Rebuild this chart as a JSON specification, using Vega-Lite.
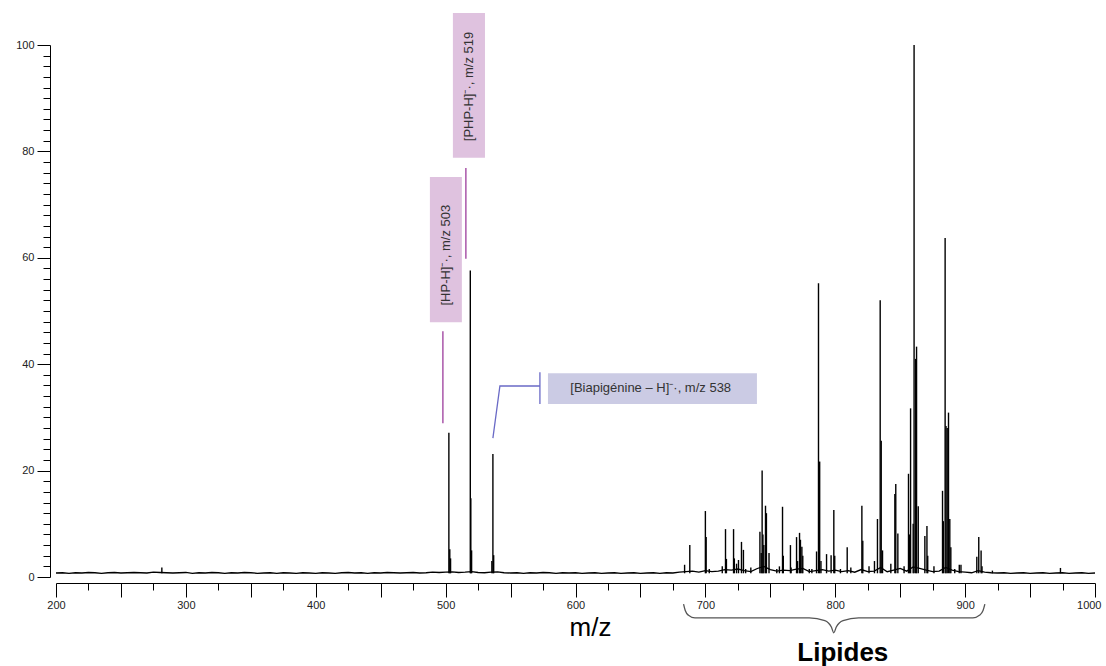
{
  "$schema": "https://vega.github.io/schema/vega-lite/v6.json",
  "width": 1039,
  "height": 532,
  "autosize": {"type": "none"},
  "padding": {"left": 56, "top": 45, "right": 11, "bottom": 89},
  "background": "white",
  "config": {"view": {"stroke": null}},
  "datasets": {
    "peaks": [
      {"mz": 281.5, "intensity": 1.8},
      {"mz": 502.5, "intensity": 27.1},
      {"mz": 503.2, "intensity": 5.2},
      {"mz": 503.8, "intensity": 3.5},
      {"mz": 519.0, "intensity": 57.6},
      {"mz": 519.4, "intensity": 14.8},
      {"mz": 520.0, "intensity": 5.0},
      {"mz": 535.6, "intensity": 3.0},
      {"mz": 536.4, "intensity": 23.1},
      {"mz": 537.0, "intensity": 4.1},
      {"mz": 684.0, "intensity": 2.3},
      {"mz": 688.0, "intensity": 6.0},
      {"mz": 700.0, "intensity": 12.4},
      {"mz": 700.6, "intensity": 7.5},
      {"mz": 703.0, "intensity": 1.5},
      {"mz": 713.0, "intensity": 2.0},
      {"mz": 715.5, "intensity": 9.0},
      {"mz": 716.2, "intensity": 3.4},
      {"mz": 721.7, "intensity": 9.0},
      {"mz": 722.3, "intensity": 3.5},
      {"mz": 724.0, "intensity": 2.5},
      {"mz": 725.5, "intensity": 3.2},
      {"mz": 727.8, "intensity": 6.6},
      {"mz": 729.3, "intensity": 5.1},
      {"mz": 731.0, "intensity": 1.5},
      {"mz": 735.0, "intensity": 1.8},
      {"mz": 742.0, "intensity": 8.5},
      {"mz": 743.0, "intensity": 4.5},
      {"mz": 743.7, "intensity": 20.0},
      {"mz": 744.3, "intensity": 8.0},
      {"mz": 745.0, "intensity": 6.0},
      {"mz": 746.3, "intensity": 13.4},
      {"mz": 747.0, "intensity": 12.0},
      {"mz": 749.0, "intensity": 4.5},
      {"mz": 755.0, "intensity": 1.5},
      {"mz": 757.0, "intensity": 2.0},
      {"mz": 759.4, "intensity": 13.2},
      {"mz": 760.0, "intensity": 4.0},
      {"mz": 765.5, "intensity": 6.0},
      {"mz": 766.0, "intensity": 1.8},
      {"mz": 770.2, "intensity": 7.5},
      {"mz": 771.0, "intensity": 3.0},
      {"mz": 772.5, "intensity": 8.3},
      {"mz": 773.2, "intensity": 7.0},
      {"mz": 774.3, "intensity": 5.7},
      {"mz": 775.0, "intensity": 4.0},
      {"mz": 780.0, "intensity": 1.5},
      {"mz": 782.0, "intensity": 1.5},
      {"mz": 785.6, "intensity": 4.8},
      {"mz": 787.1, "intensity": 55.2},
      {"mz": 788.0, "intensity": 21.7},
      {"mz": 789.0, "intensity": 3.0},
      {"mz": 793.3, "intensity": 4.3},
      {"mz": 796.8, "intensity": 4.1},
      {"mz": 798.9, "intensity": 12.6},
      {"mz": 799.6, "intensity": 4.0},
      {"mz": 804.0, "intensity": 1.5},
      {"mz": 809.2, "intensity": 5.6},
      {"mz": 812.0, "intensity": 1.8},
      {"mz": 820.5, "intensity": 13.4},
      {"mz": 821.2, "intensity": 6.8},
      {"mz": 826.0, "intensity": 2.0},
      {"mz": 830.2, "intensity": 3.0},
      {"mz": 832.5, "intensity": 10.9},
      {"mz": 834.6, "intensity": 52.0},
      {"mz": 835.4, "intensity": 25.6},
      {"mz": 836.4, "intensity": 5.0},
      {"mz": 842.8, "intensity": 2.5},
      {"mz": 845.9, "intensity": 15.6},
      {"mz": 846.6, "intensity": 17.5},
      {"mz": 848.2, "intensity": 8.2},
      {"mz": 853.0, "intensity": 2.0},
      {"mz": 856.4, "intensity": 19.4},
      {"mz": 857.2, "intensity": 8.0},
      {"mz": 858.0, "intensity": 31.7},
      {"mz": 860.0, "intensity": 10.0},
      {"mz": 860.7, "intensity": 100},
      {"mz": 861.9, "intensity": 41.0},
      {"mz": 862.6, "intensity": 43.3},
      {"mz": 863.9, "intensity": 13.3},
      {"mz": 869.0, "intensity": 7.7},
      {"mz": 870.6, "intensity": 9.6},
      {"mz": 871.2, "intensity": 4.0},
      {"mz": 876.0, "intensity": 2.0},
      {"mz": 882.6, "intensity": 16.2},
      {"mz": 883.2, "intensity": 10.5},
      {"mz": 884.6, "intensity": 63.7},
      {"mz": 885.3, "intensity": 28.4},
      {"mz": 886.2, "intensity": 28.0},
      {"mz": 887.2, "intensity": 30.9},
      {"mz": 888.2, "intensity": 10.9},
      {"mz": 889.0, "intensity": 5.6},
      {"mz": 892.0, "intensity": 1.5},
      {"mz": 895.5, "intensity": 2.3},
      {"mz": 896.8, "intensity": 2.3},
      {"mz": 909.0, "intensity": 3.8},
      {"mz": 910.5, "intensity": 7.5},
      {"mz": 912.3, "intensity": 5.0},
      {"mz": 913.0, "intensity": 2.0},
      {"mz": 921.0, "intensity": 1.2},
      {"mz": 973.4, "intensity": 1.7}
    ],
    "baseline": [
      {"mz":200,"intensity":0.75},{"mz":205,"intensity":0.8},{"mz":210,"intensity":0.7},{"mz":215,"intensity":0.8},{"mz":220,"intensity":0.75},{"mz":225,"intensity":0.85},{"mz":230,"intensity":0.8},{"mz":235,"intensity":0.7},{"mz":240,"intensity":0.8},{"mz":245,"intensity":0.85},{"mz":250,"intensity":0.75},{"mz":255,"intensity":0.8},{"mz":260,"intensity":0.85},{"mz":265,"intensity":0.8},{"mz":270,"intensity":0.75},{"mz":275,"intensity":0.9},{"mz":280,"intensity":0.85},{"mz":285,"intensity":0.8},{"mz":290,"intensity":0.75},{"mz":295,"intensity":0.8},{"mz":300,"intensity":0.85},{"mz":305,"intensity":0.7},{"mz":310,"intensity":0.8},{"mz":315,"intensity":0.75},{"mz":320,"intensity":0.85},{"mz":325,"intensity":0.8},{"mz":330,"intensity":0.7},{"mz":335,"intensity":0.8},{"mz":340,"intensity":0.75},{"mz":345,"intensity":0.85},{"mz":350,"intensity":0.8},{"mz":355,"intensity":0.7},{"mz":360,"intensity":0.75},{"mz":365,"intensity":0.8},{"mz":370,"intensity":0.7},{"mz":375,"intensity":0.8},{"mz":380,"intensity":0.75},{"mz":385,"intensity":0.7},{"mz":390,"intensity":0.8},{"mz":395,"intensity":0.75},{"mz":400,"intensity":0.7},{"mz":405,"intensity":0.8},{"mz":410,"intensity":0.75},{"mz":415,"intensity":0.7},{"mz":420,"intensity":0.8},{"mz":425,"intensity":0.85},{"mz":430,"intensity":0.75},{"mz":435,"intensity":0.8},{"mz":440,"intensity":0.7},{"mz":445,"intensity":0.8},{"mz":450,"intensity":0.75},{"mz":455,"intensity":0.85},{"mz":460,"intensity":0.8},{"mz":465,"intensity":0.75},{"mz":470,"intensity":0.8},{"mz":475,"intensity":0.85},{"mz":480,"intensity":0.75},{"mz":485,"intensity":0.8},{"mz":490,"intensity":0.9},{"mz":495,"intensity":0.85},{"mz":500,"intensity":0.9},{"mz":505,"intensity":0.95},{"mz":510,"intensity":0.85},{"mz":515,"intensity":0.9},{"mz":520,"intensity":1.0},{"mz":525,"intensity":0.85},{"mz":530,"intensity":0.8},{"mz":535,"intensity":0.9},{"mz":540,"intensity":0.95},{"mz":545,"intensity":0.8},{"mz":550,"intensity":0.75},{"mz":555,"intensity":0.8},{"mz":560,"intensity":0.7},{"mz":565,"intensity":0.8},{"mz":570,"intensity":0.75},{"mz":575,"intensity":0.85},{"mz":580,"intensity":0.8},{"mz":585,"intensity":0.7},{"mz":590,"intensity":0.8},{"mz":595,"intensity":0.75},{"mz":600,"intensity":0.8},{"mz":605,"intensity":0.7},{"mz":610,"intensity":0.75},{"mz":615,"intensity":0.8},{"mz":620,"intensity":0.7},{"mz":625,"intensity":0.75},{"mz":630,"intensity":0.8},{"mz":635,"intensity":0.7},{"mz":640,"intensity":0.75},{"mz":645,"intensity":0.8},{"mz":650,"intensity":0.7},{"mz":655,"intensity":0.75},{"mz":660,"intensity":0.8},{"mz":665,"intensity":0.7},{"mz":670,"intensity":0.8},{"mz":675,"intensity":0.75},{"mz":680,"intensity":0.9},{"mz":685,"intensity":1.0},{"mz":690,"intensity":1.1},{"mz":695,"intensity":0.9},{"mz":700,"intensity":1.2},{"mz":705,"intensity":1.0},{"mz":710,"intensity":1.1},{"mz":715,"intensity":1.4},{"mz":720,"intensity":1.3},{"mz":725,"intensity":1.5},{"mz":730,"intensity":1.2},{"mz":735,"intensity":1.0},{"mz":740,"intensity":1.6},{"mz":745,"intensity":2.0},{"mz":750,"intensity":1.4},{"mz":755,"intensity":1.1},{"mz":760,"intensity":1.3},{"mz":765,"intensity":1.2},{"mz":770,"intensity":1.5},{"mz":775,"intensity":1.6},{"mz":780,"intensity":1.0},{"mz":785,"intensity":1.2},{"mz":790,"intensity":1.4},{"mz":795,"intensity":1.1},{"mz":800,"intensity":1.3},{"mz":805,"intensity":1.0},{"mz":810,"intensity":1.2},{"mz":815,"intensity":0.9},{"mz":820,"intensity":1.4},{"mz":825,"intensity":1.0},{"mz":830,"intensity":1.1},{"mz":835,"intensity":1.8},{"mz":840,"intensity":1.0},{"mz":845,"intensity":1.3},{"mz":850,"intensity":1.6},{"mz":855,"intensity":1.1},{"mz":860,"intensity":1.9},{"mz":865,"intensity":1.6},{"mz":870,"intensity":1.3},{"mz":875,"intensity":1.0},{"mz":880,"intensity":1.1},{"mz":885,"intensity":1.8},{"mz":890,"intensity":1.3},{"mz":895,"intensity":1.0},{"mz":900,"intensity":0.9},{"mz":905,"intensity":0.8},{"mz":910,"intensity":1.2},{"mz":915,"intensity":0.9},{"mz":920,"intensity":0.8},{"mz":925,"intensity":0.75},{"mz":930,"intensity":0.8},{"mz":935,"intensity":0.7},{"mz":940,"intensity":0.75},{"mz":945,"intensity":0.8},{"mz":950,"intensity":0.7},{"mz":955,"intensity":0.75},{"mz":960,"intensity":0.8},{"mz":965,"intensity":0.7},{"mz":970,"intensity":0.75},{"mz":975,"intensity":0.8},{"mz":980,"intensity":0.7},{"mz":985,"intensity":0.75},{"mz":990,"intensity":0.8},{"mz":995,"intensity":0.7},{"mz":1000,"intensity":0.75}
    ],
    "boxes": [
      {"id": "PHP", "tone": "pink", "mz": 505.6, "mz2": 530.3, "intensity": 106.0, "intensity2": 78.8},
      {"id": "HP", "tone": "pink", "mz": 487.9, "mz2": 512.5, "intensity": 75.2, "intensity2": 47.9},
      {"id": "Biapigenine", "tone": "blue", "mz": 578.8, "mz2": 739.7, "intensity": 38.3, "intensity2": 32.5}
    ],
    "leaders": [
      {"id": "PHP", "mz": 515.6, "intensity": 76.9, "intensity2": 59.8},
      {"id": "HP", "mz": 497.9, "intensity": 46.2, "intensity2": 28.9}
    ],
    "biaLeader": [
      {"k": 1, "mz": 536.4, "intensity": 26.1},
      {"k": 2, "mz": 541.8, "intensity": 35.9},
      {"k": 3, "mz": 572.6, "intensity": 35.9}
    ],
    "biaBar": [
      {"mz": 572.6, "intensity": 38.5, "intensity2": 32.5}
    ],
    "vlabels": [
      {"mz": 517.7, "intensity": 92.2, "text": "[PHP-H]⁻·, m/z 519"},
      {"mz": 500.2, "intensity": 60.5, "text": "[HP-H]⁻·, m/z 503"}
    ],
    "hlabels": [
      {"mz": 657.9, "intensity": 35.5, "text": "[Biapigénine – H]⁻·, m/z 538"}
    ],
    "brace": [
      {"k": 1, "mz": 683.2, "intensity": -5.1},
      {"k": 2, "mz": 684.5, "intensity": -6.3},
      {"k": 3, "mz": 687.0, "intensity": -7.2},
      {"k": 4, "mz": 692.0, "intensity": -7.7},
      {"k": 5, "mz": 780.0, "intensity": -7.7},
      {"k": 6, "mz": 792.0, "intensity": -8.2},
      {"k": 7, "mz": 797.0, "intensity": -9.4},
      {"k": 8, "mz": 798.9, "intensity": -10.5},
      {"k": 9, "mz": 800.8, "intensity": -9.4},
      {"k": 10, "mz": 806.0, "intensity": -8.2},
      {"k": 11, "mz": 818.0, "intensity": -7.7},
      {"k": 12, "mz": 906.0, "intensity": -7.7},
      {"k": 13, "mz": 911.0, "intensity": -7.2},
      {"k": 14, "mz": 913.8, "intensity": -6.3},
      {"k": 15, "mz": 915.2, "intensity": -5.1}
    ],
    "group": [
      {"mz": 805.8, "intensity": -14.2, "text": "Lipides"}
    ]
  },
  "encoding": {
    "x": {
      "field": "mz", "type": "quantitative",
      "scale": {"domain": [200, 1000], "nice": false, "zero": false},
      "axis": {
        "title": "m/z",
        "titleFont": "Liberation Sans", "titleFontSize": 26, "titleFontWeight": "normal", "titleColor": "#000",
        "titleX": 534, "titleY": 44, "titleBaseline": "middle", "titleAlign": "center",
        "values": [200,225,250,275,300,325,350,375,400,425,450,475,500,525,550,575,600,625,650,675,700,725,750,775,800,825,850,875,900,925,950,975,1000],
        "labelExpr": "datum.value % 100 === 0 ? datum.label : ''",
        "format": "d",
        "tickSize": {"condition": {"test": "datum.value % 50 === 0", "value": 14}, "value": 7},
        "tickColor": "#000", "domainColor": "#000", "tickWidth": 1, "domainWidth": 1,
        "offset": 6, "grid": false,
        "labelFont": "Liberation Sans", "labelFontSize": 11, "labelColor": "#222",
        "labelPadding": 2, "labelFlush": false, "labelOverlap": false,
        "labelAlign": {"condition": {"test": "datum.value === 1000", "value": "right"}, "value": "center"},
        "labelOffset": {"condition": {"test": "datum.value === 1000", "value": 6}, "value": 0}
      }
    },
    "y": {
      "field": "intensity", "type": "quantitative",
      "scale": {"domain": [0, 100], "nice": false, "zero": true},
      "axis": {
        "title": null,
        "values": [0,2,4,6,8,10,12,14,16,18,20,22,24,26,28,30,32,34,36,38,40,42,44,46,48,50,52,54,56,58,60,62,64,66,68,70,72,74,76,78,80,82,84,86,88,90,92,94,96,98,100],
        "labelExpr": "datum.value % 20 === 0 ? datum.label : ''",
        "tickSize": {"condition": {"test": "datum.value % 20 === 0", "value": 13}, "value": 7},
        "tickColor": "#000", "domainColor": "#000", "tickWidth": 1, "domainWidth": 1,
        "offset": 6, "grid": false,
        "labelFont": "Liberation Sans", "labelFontSize": 11, "labelColor": "#222",
        "labelPadding": 3, "labelOverlap": false
      }
    }
  },
  "layer": [
    {
      "data": {"name": "boxes"},
      "transform": [{"filter": "datum.tone === 'pink'"}],
      "mark": {"type": "rect", "color": "#dfc2df"},
      "encoding": {"x2": {"field": "mz2"}, "y2": {"field": "intensity2"}}
    },
    {
      "data": {"name": "boxes"},
      "transform": [{"filter": "datum.tone === 'blue'"}],
      "mark": {"type": "rect", "color": "#cbcbe4"},
      "encoding": {"x2": {"field": "mz2"}, "y2": {"field": "intensity2"}}
    },
    {
      "data": {"name": "baseline"},
      "mark": {"type": "line", "color": "#000", "strokeWidth": 1.3},
      "encoding": {}
    },
    {
      "data": {"name": "peaks"},
      "mark": {"type": "rule", "color": "#000", "strokeWidth": 1.4},
      "encoding": {"y2": {"datum": 0.7}}
    },
    {
      "data": {"name": "leaders"},
      "mark": {"type": "rule", "color": "#9c3c9c", "strokeWidth": 1.3},
      "encoding": {"y2": {"field": "intensity2"}}
    },
    {
      "data": {"name": "biaLeader"},
      "mark": {"type": "line", "color": "#6a6ac6", "strokeWidth": 1.3},
      "encoding": {"order": {"field": "k", "type": "quantitative"}}
    },
    {
      "data": {"name": "biaBar"},
      "mark": {"type": "rule", "color": "#6a6ac6", "strokeWidth": 1.3},
      "encoding": {"y2": {"field": "intensity2"}}
    },
    {
      "data": {"name": "vlabels"},
      "mark": {"type": "text", "angle": 270, "font": "Liberation Sans", "fontSize": 13, "color": "#333", "align": "center", "baseline": "middle"},
      "encoding": {"text": {"field": "text"}}
    },
    {
      "data": {"name": "hlabels"},
      "mark": {"type": "text", "font": "Liberation Sans", "fontSize": 13, "color": "#333", "align": "center", "baseline": "middle"},
      "encoding": {"text": {"field": "text"}}
    },
    {
      "data": {"name": "brace"},
      "mark": {"type": "line", "color": "#555", "strokeWidth": 1.3, "interpolate": "monotone"},
      "encoding": {"order": {"field": "k", "type": "quantitative"}}
    },
    {
      "data": {"name": "group"},
      "mark": {"type": "text", "font": "Liberation Sans", "fontSize": 26, "fontWeight": "bold", "color": "#000", "align": "center", "baseline": "middle"},
      "encoding": {"text": {"field": "text"}}
    }
  ]
}
